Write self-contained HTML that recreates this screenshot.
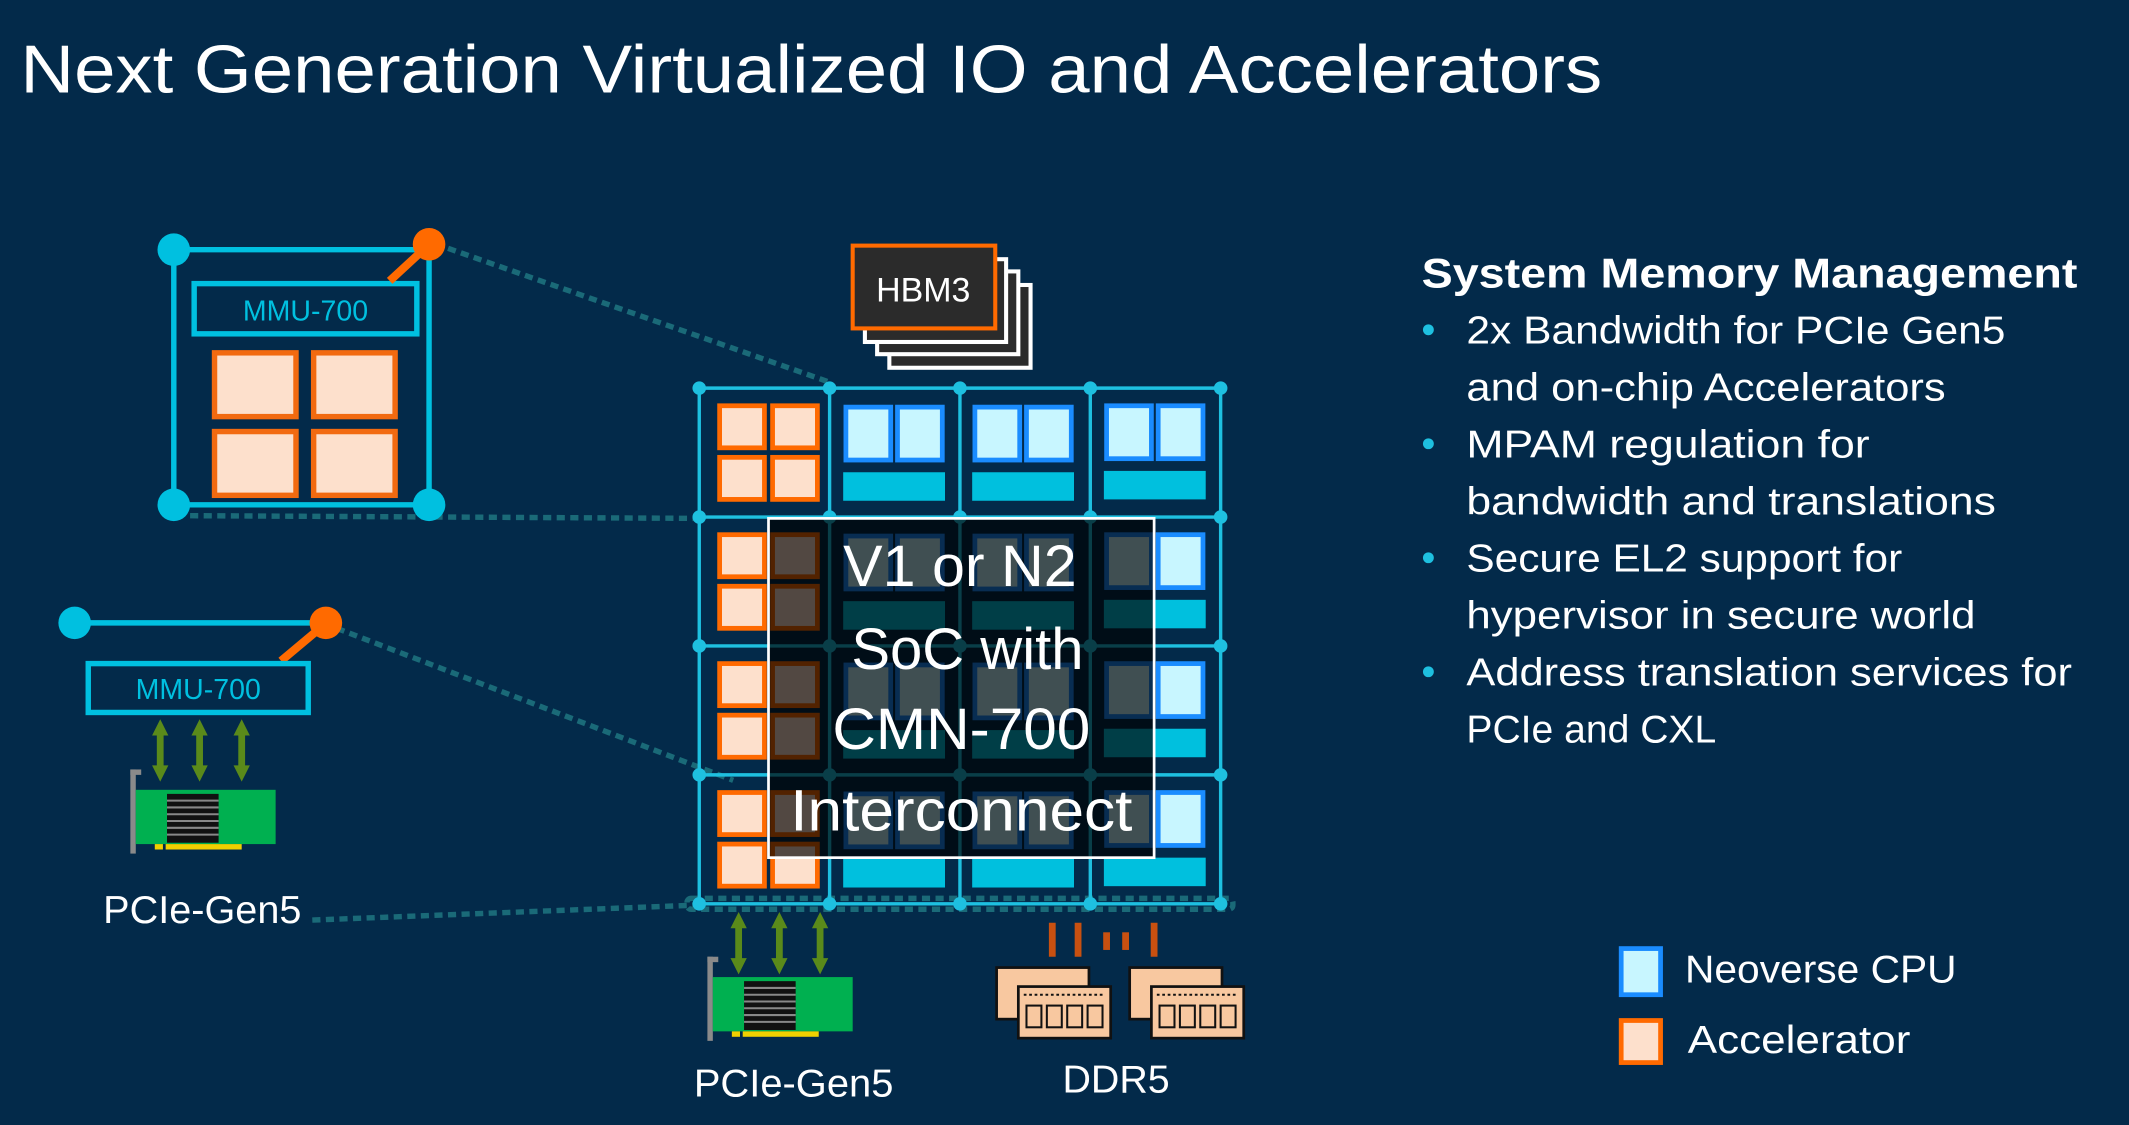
<!DOCTYPE html>
<html><head><meta charset="utf-8"><style>
html,body{margin:0;padding:0;background:#032a4a;}
svg{display:block}
text{font-family:"Liberation Sans",sans-serif;}
</style></head><body>
<svg width="2129" height="1125" viewBox="0 0 1568 829" preserveAspectRatio="none" xmlns="http://www.w3.org/2000/svg">
<defs>
<g id="dbl"><path d="M0,0 L-6,12 L-2.5,12 L-2.5,34 L-6,34 L0,46 L6,34 L2.5,34 L2.5,12 L6,12 Z" fill="#5a8a1a"/></g>
<g id="card">
<rect x="0" y="0" width="4" height="62" fill="#8a8a8a"/><rect x="0" y="0" width="8" height="4" fill="#8a8a8a"/>
<rect x="4" y="15" width="103" height="40" fill="#00b050"/>
<rect x="27" y="18" width="38" height="36" fill="#111"/>
<g stroke="#888" stroke-width="1.5"><line x1="27" y1="23" x2="65" y2="23"/><line x1="27" y1="28" x2="65" y2="28"/><line x1="27" y1="33" x2="65" y2="33"/><line x1="27" y1="38" x2="65" y2="38"/><line x1="27" y1="43" x2="65" y2="43"/><line x1="27" y1="48" x2="65" y2="48"/></g>
<rect x="18" y="55" width="6" height="4" fill="#f0d000"/><rect x="26" y="55" width="56" height="4" fill="#f0d000"/>
</g>
<g id="mod">
<rect x="0" y="0" width="68" height="38" fill="#f8c8a0" stroke="#111" stroke-width="2"/>
<rect x="16" y="14" width="68" height="38" fill="#f8c8a0" stroke="#111" stroke-width="2"/>
<g fill="none" stroke="#111" stroke-width="1.5"><rect x="22" y="28" width="11" height="16"/><rect x="37" y="28" width="11" height="16"/><rect x="52" y="28" width="11" height="16"/><rect x="67" y="28" width="11" height="16"/></g>
<line x1="20" y1="20" x2="80" y2="20" stroke="#111" stroke-width="1.5" stroke-dasharray="2 2"/>
</g>
</defs>
<rect width="1568" height="829" fill="#032a4a"/>
<text x="15" y="68" font-size="50" fill="#fff" textLength="1165" lengthAdjust="spacingAndGlyphs">Next Generation Virtualized IO and Accelerators</text>

<g stroke="#1a6a78" stroke-width="4" stroke-dasharray="6 4" fill="none">
<line x1="330" y1="183" x2="612" y2="282"/>
<line x1="140" y1="380" x2="515" y2="382"/>
<line x1="248" y1="463" x2="540" y2="575"/>
<line x1="230" y1="678" x2="512" y2="667"/>
<rect x="506" y="662" width="402" height="8" rx="3"/>
</g>

<g stroke="#00c0e0" stroke-width="4" fill="none">
<line x1="128" y1="184" x2="316" y2="184"/><line x1="128" y1="184" x2="128" y2="372"/><line x1="316" y1="184" x2="316" y2="372"/><line x1="128" y1="372" x2="316" y2="372"/>
<rect x="143" y="209" width="164" height="37"/>
</g>
<circle cx="128" cy="184" r="12" fill="#00c0e0"/><circle cx="128" cy="372" r="12" fill="#00c0e0"/><circle cx="316" cy="372" r="12" fill="#00c0e0"/>
<line x1="287" y1="207" x2="314" y2="182" stroke="#ff6a00" stroke-width="6"/><circle cx="316" cy="180" r="12" fill="#ff6a00"/>
<text x="225" y="236" font-size="21" fill="#00c0e0" text-anchor="middle">MMU-700</text>
<g fill="#fde0cc" stroke="#f26a10" stroke-width="4">
<rect x="158" y="260" width="60" height="47"/><rect x="231" y="260" width="60" height="47"/><rect x="158" y="318" width="60" height="47"/><rect x="231" y="318" width="60" height="47"/>
</g>

<line x1="55" y1="459" x2="240" y2="459" stroke="#00c0e0" stroke-width="4"/>
<circle cx="55" cy="459" r="12" fill="#00c0e0"/>
<line x1="207" y1="487" x2="238" y2="461" stroke="#ff6a00" stroke-width="6"/><circle cx="240" cy="459" r="12" fill="#ff6a00"/>
<rect x="65" y="489" width="162" height="36" fill="none" stroke="#00c0e0" stroke-width="4"/>
<text x="146" y="515" font-size="21" fill="#00c0e0" text-anchor="middle">MMU-700</text>
<use href="#dbl" x="118" y="530"/><use href="#dbl" x="147" y="530"/><use href="#dbl" x="178" y="530"/>
<use href="#card" x="96" y="567"/>
<text x="76" y="680" font-size="29" fill="#fff" textLength="146" lengthAdjust="spacingAndGlyphs">PCIe-Gen5</text>

<g stroke="#fff" stroke-width="3" fill="#2b2b2b">
<rect x="655" y="210" width="104" height="61"/><rect x="646" y="200" width="104" height="61"/><rect x="637" y="191" width="104" height="61"/>
</g>
<rect x="628" y="181" width="105" height="61" fill="#2b2b2b" stroke="#ff6a00" stroke-width="3"/>
<text x="680" y="222" font-size="25" fill="#fff" text-anchor="middle">HBM3</text>

<g stroke="#1ec0e0" stroke-width="2.5">
<line x1="515" y1="286" x2="899" y2="286"/><line x1="515" y1="381" x2="899" y2="381"/><line x1="515" y1="476" x2="899" y2="476"/><line x1="515" y1="571" x2="899" y2="571"/><line x1="515" y1="666" x2="899" y2="666"/>
<line x1="515" y1="286" x2="515" y2="666"/><line x1="611" y1="286" x2="611" y2="666"/><line x1="707" y1="286" x2="707" y2="666"/><line x1="803" y1="286" x2="803" y2="666"/><line x1="899" y1="286" x2="899" y2="666"/>
</g>
<g fill="#1ec0e0">
<circle cx="515" cy="286" r="5"/><circle cx="611" cy="286" r="5"/><circle cx="707" cy="286" r="5"/><circle cx="803" cy="286" r="5"/><circle cx="899" cy="286" r="5"/>
<circle cx="515" cy="381" r="5"/><circle cx="611" cy="381" r="5"/><circle cx="707" cy="381" r="5"/><circle cx="803" cy="381" r="5"/><circle cx="899" cy="381" r="5"/>
<circle cx="515" cy="476" r="5"/><circle cx="611" cy="476" r="5"/><circle cx="707" cy="476" r="5"/><circle cx="803" cy="476" r="5"/><circle cx="899" cy="476" r="5"/>
<circle cx="515" cy="571" r="5"/><circle cx="611" cy="571" r="5"/><circle cx="707" cy="571" r="5"/><circle cx="803" cy="571" r="5"/><circle cx="899" cy="571" r="5"/>
<circle cx="515" cy="666" r="5"/><circle cx="611" cy="666" r="5"/><circle cx="707" cy="666" r="5"/><circle cx="803" cy="666" r="5"/><circle cx="899" cy="666" r="5"/>
</g>
<g id="rowcells">
<g fill="#fde0cc" stroke="#ff6a00" stroke-width="3.5"><rect x="530" y="299" width="33" height="31"/><rect x="569" y="299" width="33" height="31"/><rect x="530" y="337" width="33" height="31"/><rect x="569" y="337" width="33" height="31"/></g>
<g fill="#c8f6ff" stroke="#1a8cff" stroke-width="3.5">
<rect x="623" y="300" width="33" height="39"/><rect x="661" y="300" width="33" height="39"/>
<rect x="718" y="300" width="33" height="39"/><rect x="756" y="300" width="33" height="39"/>
<rect x="815" y="299" width="33" height="39"/><rect x="853" y="299" width="33" height="39"/>
</g>
<g fill="#00c0de"><rect x="621" y="348" width="75" height="21"/><rect x="716" y="348" width="75" height="21"/><rect x="813" y="347" width="75" height="21"/></g>
</g>
<use href="#rowcells" y="95"/><use href="#rowcells" y="190"/><use href="#rowcells" y="285"/>

<rect x="566" y="382" width="284" height="250" fill="rgba(0,0,0,0.68)" stroke="#fff" stroke-width="2"/>
<g font-size="43" fill="#fff">
<text x="621" y="432" textLength="172" lengthAdjust="spacingAndGlyphs">V1 or N2</text>
<text x="627" y="493" textLength="171" lengthAdjust="spacingAndGlyphs">SoC with</text>
<text x="613" y="552" textLength="190" lengthAdjust="spacingAndGlyphs">CMN-700</text>
<text x="582" y="612" textLength="252" lengthAdjust="spacingAndGlyphs">Interconnect</text>
</g>

<use href="#dbl" x="544" y="672"/><use href="#dbl" x="574" y="672"/><use href="#dbl" x="604" y="672"/>
<use href="#card" x="521" y="705"/>
<text x="511" y="808" font-size="29" fill="#fff" textLength="147" lengthAdjust="spacingAndGlyphs">PCIe-Gen5</text>
<g stroke="#c85010" stroke-width="5"><line x1="775" y1="680" x2="775" y2="705"/><line x1="794" y1="680" x2="794" y2="705"/><line x1="815" y1="687" x2="815" y2="700"/><line x1="829" y1="687" x2="829" y2="700"/><line x1="850" y1="680" x2="850" y2="705"/></g>
<use href="#mod" x="734" y="713"/><use href="#mod" x="832" y="713"/>
<text x="822" y="805" font-size="29" fill="#fff" text-anchor="middle">DDR5</text>

<text x="1047" y="212" font-size="31" font-weight="bold" fill="#fff" textLength="483" lengthAdjust="spacingAndGlyphs">System Memory Management</text>
<g font-size="29" fill="#fff">
<text x="1080" y="253" textLength="397" lengthAdjust="spacingAndGlyphs">2x Bandwidth for PCIe Gen5</text>
<text x="1080" y="295" textLength="353" lengthAdjust="spacingAndGlyphs">and on-chip Accelerators</text>
<text x="1080" y="337" textLength="297" lengthAdjust="spacingAndGlyphs">MPAM regulation for</text>
<text x="1080" y="379" textLength="390" lengthAdjust="spacingAndGlyphs">bandwidth and translations</text>
<text x="1080" y="421" textLength="321" lengthAdjust="spacingAndGlyphs">Secure EL2 support for</text>
<text x="1080" y="463" textLength="375" lengthAdjust="spacingAndGlyphs">hypervisor in secure world</text>
<text x="1080" y="505" textLength="446" lengthAdjust="spacingAndGlyphs">Address translation services for</text>
<text x="1080" y="547" textLength="184" lengthAdjust="spacingAndGlyphs">PCIe and CXL</text>
</g>
<g fill="#1ec0e0"><circle cx="1052" cy="243" r="4"/><circle cx="1052" cy="327" r="4"/><circle cx="1052" cy="411" r="4"/><circle cx="1052" cy="495" r="4"/></g>

<rect x="1194" y="699" width="29" height="34" fill="#c8f6ff" stroke="#1a8cff" stroke-width="3.5"/>
<text x="1241" y="724" font-size="29" fill="#fff" textLength="200" lengthAdjust="spacingAndGlyphs">Neoverse CPU</text>
<rect x="1194" y="752" width="29" height="31" fill="#fde0cc" stroke="#ff6a00" stroke-width="3.5"/>
<text x="1243" y="776" font-size="29" fill="#fff" textLength="164" lengthAdjust="spacingAndGlyphs">Accelerator</text>
</svg>
</body></html>
